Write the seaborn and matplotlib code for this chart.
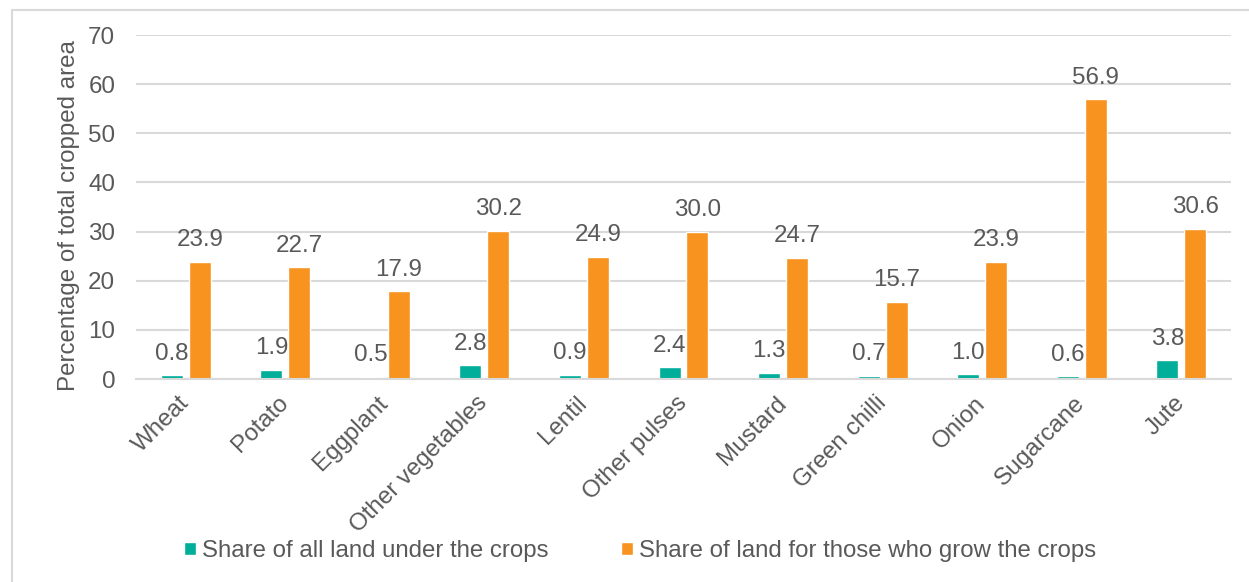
import matplotlib
matplotlib.use("Agg")
import matplotlib.pyplot as plt
from matplotlib.patches import Patch, Rectangle
import seaborn as sns
import pandas as pd

crops = ["Wheat", "Potato", "Eggplant", "Other vegetables", "Lentil",
         "Other pulses", "Mustard", "Green chilli", "Onion", "Sugarcane", "Jute"]
share_all_land = [0.8, 1.9, 0.5, 2.8, 0.9, 2.4, 1.3, 0.7, 1.0, 0.6, 3.8]
share_growers = [23.9, 22.7, 17.9, 30.2, 24.9, 30.0, 24.7, 15.7, 23.9, 56.9, 30.6]
series_names = ["Share of all land under the crops",
                "Share of land for those who grow the crops"]
y_ticks = [0, 10, 20, 30, 40, 50, 60, 70]

teal = "#00AE9A"
orange = "#F7931E"
text_color = "#595959"
grid_color = "#D9D9D9"
fs = 17.4

df = pd.DataFrame({
    "crop": crops * 2,
    "value": share_all_land + share_growers,
    "series": [series_names[0]] * len(crops) + [series_names[1]] * len(crops),
})

sns.set_theme(style="white")
plt.rcParams["font.family"] = ["Liberation Sans", "DejaVu Sans"]
plt.rcParams["text.color"] = text_color

fig = plt.figure(figsize=(12.49, 5.82), dpi=100)
ax = fig.add_axes([136 / 1249, 1 - 379 / 582, (1231 - 136) / 1249, (379 - 35) / 582])

sns.barplot(data=df, x="crop", y="value", hue="series", order=crops,
            hue_order=series_names, palette=[teal, orange],
            width=0.56, gap=0.21, ax=ax, legend=False, saturation=1)

for cont in ax.containers:
    ax.bar_label(cont, fmt="%.1f", padding=7.5, fontsize=fs, color=text_color)

ax.set_ylim(0, 70)
ax.set_yticks(y_ticks)
ax.yaxis.grid(True, color=grid_color, linewidth=1.5)
ax.set_axisbelow(True)
ax.tick_params(axis="both", length=0, labelsize=fs, colors=text_color)
ax.tick_params(axis="y", pad=15)
ax.tick_params(axis="x", pad=15)
for lab in ax.get_xticklabels():
    lab.set_rotation(45)
    lab.set_ha("right")
    lab.set_va("center")
    lab.set_rotation_mode("anchor")
ax.set_xlabel("")
ax.set_ylabel("Percentage of total cropped area", fontsize=fs, color=text_color)
ax.yaxis.set_label_coords(-0.051, 0.474)
for side in ["left", "right", "top"]:
    ax.spines[side].set_visible(False)
ax.spines["bottom"].set_color(grid_color)
ax.spines["bottom"].set_linewidth(1.5)

handles = [Patch(facecolor=teal), Patch(facecolor=orange)]
fig.legend(handles, series_names, loc="center", bbox_to_anchor=(640 / 1249, 1 - 551 / 582),
           ncol=2, frameon=False, fontsize=17.3, handlelength=0.5, handleheight=0.5,
           handletextpad=0.25, columnspacing=3.0, labelcolor=text_color)

# outer chart frame
fig.patches.append(Rectangle((12 / 1249, -0.1), 1.2, 1 - 10 / 582 + 0.1,
                             transform=fig.transFigure, fill=False,
                             edgecolor=grid_color, linewidth=1.5))

fig.savefig("out.png", dpi=100)
